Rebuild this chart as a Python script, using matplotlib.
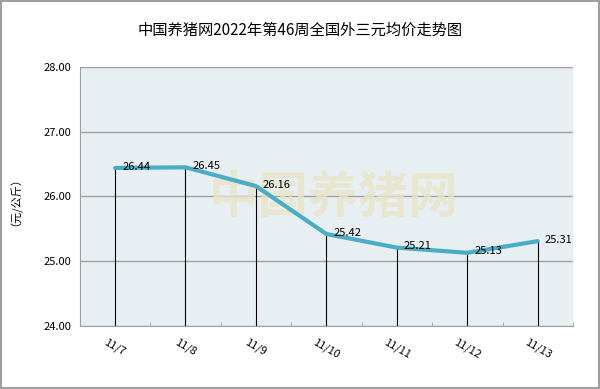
import matplotlib.pyplot as plt
from matplotlib.patches import Rectangle

plt.rcParams['font.family'] = ['Noto Sans CJK SC', 'DejaVu Sans']

dates = ['11/7', '11/8', '11/9', '11/10', '11/11', '11/12', '11/13']
prices = [26.44, 26.45, 26.16, 25.42, 25.21, 25.13, 25.31]
yticks = [24.00, 25.00, 26.00, 27.00, 28.00]

fig = plt.figure(figsize=(6, 3.89), dpi=100)
ax = fig.add_axes([0.133, 0.162, 0.822, 0.666])
ax.set_facecolor('#E8EFF3')

x = list(range(len(dates)))

# faint watermark
ax.text(3.1, 25.95, '中国养猪网', fontsize=36, color='#E9E4C6', alpha=0.8,
        ha='center', va='center', fontweight='bold', zorder=1)

for xi, yi in zip(x, prices):
    ax.plot([xi, xi], [24, yi], color='black', linewidth=0.8, zorder=2)
ax.plot(x, prices, color='#4BACC6', linewidth=3, zorder=3, solid_capstyle='round')
for xi, yi in zip(x, prices):
    ax.text(xi + 0.1, yi + 0.02, f'{yi:.2f}', fontsize=8, ha='left', va='center', zorder=4)

ax.set_xlim(-0.5, len(dates) - 0.5)
ax.set_ylim(24, 28)
ax.set_yticks(yticks)
ax.set_yticklabels([f'{v:.2f}' for v in yticks], fontsize=8)
ax.yaxis.grid(True, color='#A0A0A0', linewidth=1)
ax.set_axisbelow(True)
ax.tick_params(axis='y', length=0, pad=6)

ax.set_xticks(x)
ax.set_xticklabels(dates, rotation=-30, fontsize=8, ha='center')
ax.set_xticks([i + 0.5 for i in range(-1, len(dates))], minor=True)
ax.tick_params(axis='x', which='major', length=0, pad=8)
ax.tick_params(axis='x', which='minor', length=3, color='#A0A0A0', direction='in')

for side in ['top', 'right']:
    ax.spines[side].set_visible(False)
ax.spines['left'].set_color('#A0A0A0')
ax.spines['bottom'].set_color('#A0A0A0')

ax.set_ylabel('（元/公斤）', fontsize=8, labelpad=20)
fig.text(0.5, 0.922, '中国养猪网2022年第46周全国外三元均价走势图', fontsize=11,
         ha='center', va='center', fontweight='medium')

fig.patches.append(Rectangle((0.002, 0.003), 0.996, 0.994, transform=fig.transFigure,
                             fill=False, edgecolor='#A0A0A0', linewidth=1.5))

fig.savefig('out.png', dpi=100)
